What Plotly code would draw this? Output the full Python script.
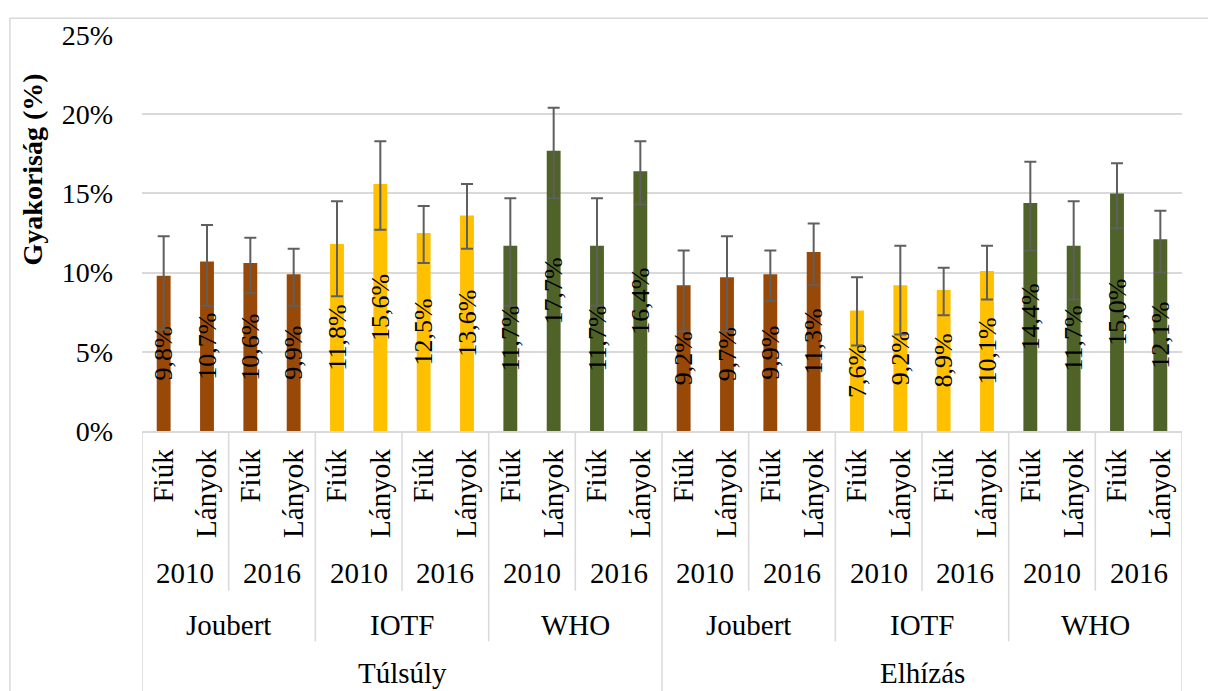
import plotly.graph_objects as go

# ---- data ----
types = ["Túlsúly"] * 12 + ["Elhízás"] * 12
methods = (["Joubert"] * 4 + ["IOTF"] * 4 + ["WHO"] * 4) * 2
years = (["2010"] * 2 + ["2016"] * 2) * 6
sexes = ["Fiúk", "Lányok"] * 12
values = [9.8, 10.7, 10.6, 9.9, 11.8, 15.6, 12.5, 13.6, 11.7, 17.7, 11.7, 16.4,
          9.2, 9.7, 9.9, 11.3, 7.6, 9.2, 8.9, 10.1, 14.4, 11.7, 15.0, 12.1]
upper = [12.3, 13.0, 12.2, 11.5, 14.5, 18.3, 14.2, 15.6, 14.7, 20.4, 14.7, 18.3,
         11.4, 12.3, 11.4, 13.1, 9.7, 11.7, 10.3, 11.7, 17.0, 14.5, 16.9, 13.9]
lower = [6.4, 7.9, 8.7, 7.9, 8.5, 12.7, 10.6, 11.5, 7.9, 14.7, 7.9, 14.3,
         6.3, 6.3, 8.2, 9.2, 5.4, 6.1, 7.3, 8.3, 11.4, 8.3, 12.8, 10.0]
method_colors = {"Joubert": "#984807", "IOTF": "#FFC000", "WHO": "#4F6228"}
y_title = "Gyakoriság (%)"

FONT = "Liberation Serif, Times New Roman, serif"
GRID = "#D9D9D9"

n = len(values)
xs = list(range(n))
labels = [f"{v:.1f}%".replace(".", ",") for v in values]

fig = go.Figure()
fig.add_trace(go.Bar(
    x=xs, y=values, width=0.32,
    marker=dict(color=[method_colors[m] for m in methods], line=dict(width=0)),
    text=labels, textposition="inside", textangle=-90,
    insidetextanchor="middle", constraintext="none",
    textfont=dict(family=FONT, size=26, color="black"),
    error_y=dict(type="data", symmetric=False,
                 array=[u - v for u, v in zip(upper, values)],
                 arrayminus=[v - l for v, l in zip(values, lower)],
                 color="#5F5F5F", thickness=2, width=6),
    hoverinfo="skip",
))

# ---- hierarchical axis labels ----
annotations = []

def groups(keys):
    out = []
    start = 0
    for i in range(1, n + 1):
        if i == n or keys[i] != keys[start]:
            out.append((start, i - 1, keys[start][-1]))
            start = i
    return out

year_keys = [(t, m, y) for t, m, y in zip(types, methods, years)]
method_keys = [(t, m) for t, m in zip(types, methods)]
type_keys = [(t,) for t in types]

for keys, ypos in [(year_keys, -0.358), (method_keys, -0.489), (type_keys, -0.612)]:
    for a, b, lab in groups(keys):
        annotations.append(dict(x=(a + b) / 2, y=ypos, xref="x", yref="paper",
                                xanchor="center", text=lab, showarrow=False,
                                yanchor="middle",
                                font=dict(family=FONT, size=29, color="black")))

annotations.append(dict(x=-0.105, y=0.66, xref="paper", yref="paper",
                        xanchor="center", yanchor="middle",
                        text=f"<b>{y_title}</b>", textangle=-90, showarrow=False,
                        font=dict(family=FONT, size=28, color="black")))

shapes = []
type_b = {a for a, b, _ in groups(type_keys)} | {n}
meth_b = {a for a, b, _ in groups(method_keys)}
year_b = {a for a, b, _ in groups(year_keys)}
for bnd in range(n + 1):
    if bnd in type_b:
        y1 = -0.72
    elif bnd in meth_b:
        y1 = -0.531
    elif bnd in year_b:
        y1 = -0.4035
    else:
        continue
    shapes.append(dict(type="line", xref="x", yref="paper", x0=bnd - 0.5, x1=bnd - 0.5,
                       y0=0, y1=y1, line=dict(color=GRID, width=1.5)))

# outer chart border (cropped by the picture edge)
shapes.append(dict(type="rect", xref="paper", yref="paper", x0=-0.127, x1=1.05,
                   y0=-0.75, y1=1.0426, line=dict(color=GRID, width=1.5), layer="below"))

# the page body adds an 8px offset; the figure is sized to fit the window
fig.update_layout(
    width=1208, height=683,
    margin=dict(l=134, r=34, t=24, b=260),
    paper_bgcolor="white", plot_bgcolor="white",
    font=dict(family=FONT, size=28, color="black"),
    showlegend=False, bargap=0.68,
    annotations=annotations, shapes=shapes,
    xaxis=dict(range=[-0.5, n - 0.5], tickvals=xs, ticktext=sexes, tickangle=-90,
               showgrid=False, zeroline=False, showline=True, linecolor=GRID,
               linewidth=1.5, ticks="", ticklabelstandoff=5,
               tickfont=dict(family=FONT, size=29, color="black")),
    yaxis=dict(range=[0, 25], dtick=5, ticksuffix="%", showgrid=True, gridcolor=GRID,
               gridwidth=1.5, zeroline=False, showline=False, ticks="",
               ticklabelstandoff=28,
               tickfont=dict(family=FONT, size=28, color="black")),
)

fig.write_html("out.html")
